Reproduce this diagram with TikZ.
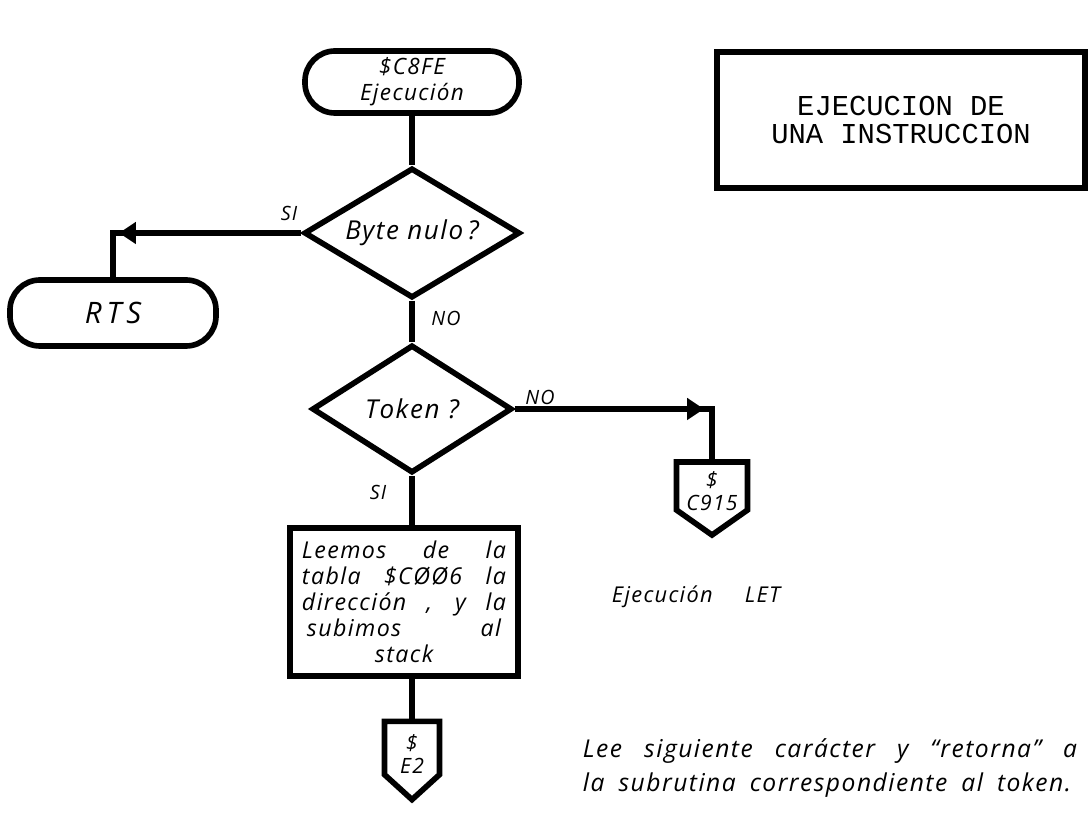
\documentclass[tikz,border=0pt]{standalone}
\usepackage{fontspec}
\setmainfont{Open Sans}
\newfontfamily\handfont{Open Sans}[LetterSpace=6]
\newfontfamily\typewriter{Liberation Mono}
\usetikzlibrary{shapes.geometric,arrows.meta,calc,positioning}

\newcommand{\handtext}[2]{\handfont\fontsize{#1}{#2}\selectfont\itshape}

\tikzset{
  flowline/.style={line width=4pt, line join=miter},
  flowarrow/.style={line width=4pt, -{Triangle[length=12pt,width=15pt]}},
  terminal/.style={draw, line width=4pt, rounded corners=0.75cm, align=center, inner sep=0pt},
  decision/.style={draw, diamond, aspect=1.65, line width=4pt, inner sep=0pt, font=\handtext{18.5}{22}},
  process/.style={draw, rectangle, line width=4pt, align=center, inner sep=0pt,
    minimum width=5.7cm, minimum height=3.7cm, font=\handtext{16.5}{18.5}},
  offpage/.style={rectangle, inner sep=0pt, outer sep=0pt},
  offtext/.style={align=center, inner sep=0pt, font=\handtext{15}{16.5}},
  branch/.style={font=\handtext{14}{16}},
  titlebox/.style={draw, line width=4pt, align=center, minimum width=9.2cm, minimum height=3.4cm,
    font=\typewriter\fontsize{20.5}{20}\selectfont}
}

\begin{document}
\begin{tikzpicture}[x=0.025cm, y=-0.025cm]
  \useasboundingbox (0,0) rectangle (1088,813);

  % flow chart
  \node[terminal, minimum width=5.35cm, minimum height=1.55cm, font=\handtext{16}{18.5}] (start) at (412,82) {\$C8FE\\Ejecución};
  \node[decision, minimum width=5.4cm, minimum height=3.25cm] (nulo) at (412,233) {Byte nulo\,?};
  \node[terminal, minimum width=5.15cm, minimum height=1.65cm, font=\handtext{21}{22}] (rts) at (113,313) {R\,T\,S};
  \node[decision, minimum width=5cm, minimum height=3.2cm] (token) at (412,409) {Token ?};
  \node[process] (tabla) at (404,602) {%
    \makebox[5.1cm][s]{Leemos de la}\\
    \makebox[5.1cm][s]{tabla \$CØØ6 la}\\
    \makebox[5.1cm][s]{dirección , y la}\\
    \makebox[4.85cm][s]{subimos al}\\
    stack};

  % conectores de pagina
  \node[offpage, minimum width=1.775cm, minimum height=1.2cm] (c915) at (712,486) {};
  \draw[flowline] (c915.north west) -- (c915.north east) -- (c915.south east)
    -- ([yshift=-0.625cm]c915.south) -- (c915.south west) -- cycle;
  \node[offtext] (c915txt) at ([yshift=-0.12cm]c915.center) {\$\\C915};
  \node[offpage, minimum width=1.375cm, minimum height=1.33cm] (e2) at (412,748) {};
  \draw[flowline] (e2.north west) -- (e2.north east) -- (e2.south east)
    -- ([yshift=-0.625cm]e2.south) -- (e2.south west) -- cycle;
  \node[offtext] (e2txt) at ([yshift=-0.15cm]e2.center) {\$\\E2};

  \coordinate (sicorner) at (rts.north |- nulo.west);
  \coordinate (nocorner) at (c915.north |- token.east);

  \draw[flowline] (start) -- (nulo);
  \draw[flowline] (nulo.west) -- (sicorner) -- (rts.north);
  \draw[flowarrow] (nulo.west) -- ([xshift=0.15cm]sicorner);
  \draw[flowline] (nulo) -- (token);
  \draw[flowline] (token.east) -- (nocorner) -- (c915.north);
  \draw[flowarrow] (token.east) -- ([xshift=-0.2cm]nocorner);
  \draw[flowline] (token.south) -- (token.south |- tabla.north);
  \draw[flowline] (e2.north |- tabla.south) -- (e2.north);

  \node[branch] (si1) at (289,213) {SI};
  \node[branch] (no1) at (446,318) {NO};
  \node[branch] (no2) at (540,397) {NO};
  \node[branch] (si2) at (378,492) {SI};

  % textos sueltos
  \node[font=\handtext{15.5}{19}] (let) at (696,597) {\makebox[4.2cm][s]{Ejecución LET}};
  \node[anchor=west, align=left, font=\handtext{17.5}{23.5}] (nota) at (578,768)
    {\makebox[12.35cm][s]{Lee siguiente carácter y “retorna” a}\\
     \makebox[12.2cm][s]{la subrutina correspondiente al token.}};

  \node[titlebox] (titulo) at (901,120) {EJECUCION DE\\UNA INSTRUCCION};
\end{tikzpicture}
\end{document}
